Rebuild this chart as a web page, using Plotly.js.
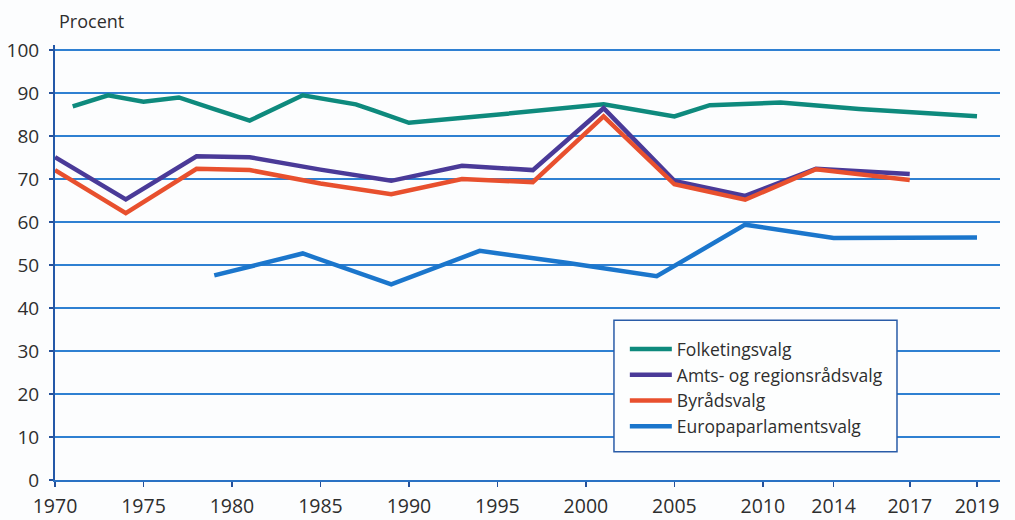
<!DOCTYPE html>
<html>
<head>
<meta charset="utf-8">
<script src="https://cdn.plot.ly/plotly-3.0.1.min.js"></script>
<style>
html,body{margin:0;padding:0;background:#fcfdfe;}
#chart{width:1015px;height:520px;}
</style>
</head>
<body>
<div id="chart"></div>
<script>
// ---- data ----
const tickYears = [1970, 1975, 1980, 1985, 1990, 1995, 2000, 2005, 2010, 2014, 2017, 2019];

const folketingYears = [1971, 1973, 1975, 1977, 1979, 1981, 1984, 1987, 1988, 1990, 1994, 1998, 2001, 2005, 2007, 2011, 2015, 2019];
const folketingVals  = [86.9, 89.5, 88.0, 89.0, 86.3, 83.6, 89.5, 87.4, 86.0, 83.1, 84.6, 86.3, 87.4, 84.6, 87.2, 87.8, 86.3, 84.6];

const amtYears = [1970, 1974, 1978, 1981, 1985, 1989, 1993, 1997, 2001, 2005, 2009, 2013, 2017];
const amtVals  = [75.1, 65.3, 75.3, 75.1, 72.2, 69.6, 73.1, 72.1, 86.5, 69.6, 66.1, 72.4, 71.2];

const byraadYears = [1970, 1974, 1978, 1981, 1985, 1989, 1993, 1997, 2001, 2005, 2009, 2013, 2017];
const byraadVals  = [72.1, 62.1, 72.4, 72.1, 69.0, 66.5, 70.0, 69.3, 84.6, 68.8, 65.2, 72.3, 69.8];

const europaYears = [1979, 1984, 1989, 1994, 1999, 2004, 2009, 2014, 2019];
const europaVals  = [47.6, 52.7, 45.5, 53.3, 50.5, 47.4, 59.4, 56.3, 56.4];

const seriesNames = ['Folketingsvalg', 'Amts- og regionsrådsvalg', 'Byrådsvalg', 'Europaparlamentsvalg'];
const seriesColors = ['#0e8a7d', '#4a3a98', '#e8502e', '#1b76cc'];

// ---- the reference's x axis is stretched after 2014 (piecewise-linear scale) ----
const scaleYears = [1970, 2014, 2017, 2019];
const scaleUnits = [1970, 2014, 2018.3, 2022.1];
function toAxis(year) {
  for (let i = 0; i < scaleYears.length - 1; i++) {
    if (year <= scaleYears[i + 1] || i === scaleYears.length - 2) {
      const t = (year - scaleYears[i]) / (scaleYears[i + 1] - scaleYears[i]);
      return scaleUnits[i] + t * (scaleUnits[i + 1] - scaleUnits[i]);
    }
  }
}

const seriesYears = [folketingYears, amtYears, byraadYears, europaYears];
const seriesVals = [folketingVals, amtVals, byraadVals, europaVals];

const traces = seriesNames.map((name, i) => ({
  type: 'scatter',
  mode: 'lines',
  name: name,
  x: seriesYears[i].map(toAxis),
  y: seriesVals[i],
  text: seriesYears[i].map(String),
  hovertemplate: '%{text}: %{y}<extra>' + name + '</extra>',
  line: {color: seriesColors[i], width: 4.5, shape: 'linear'}
}));

const font = {family: '"Open Sans", "Noto Sans", sans-serif', color: '#2e2e2e'};

const layout = {
  width: 1015,
  height: 520,
  paper_bgcolor: '#fcfdfe',
  plot_bgcolor: '#fcfdfe',
  margin: {l: 55, r: 15, t: 45, b: 40},
  font: font,
  showlegend: true,
  legend: {
    x: 0.603, y: 0.342, xanchor: 'left', yanchor: 'top',
    bgcolor: 'rgba(0,0,0,0)', borderwidth: 0,
    font: {family: font.family, size: 17.5, color: '#2e2e2e'},
    itemwidth: 42
  },
  xaxis: {
    type: 'linear',
    range: [1970, 2023.4],
    tickmode: 'array',
    tickvals: tickYears.map(toAxis),
    ticktext: tickYears.map(String),
    showgrid: false,
    zeroline: false,
    showline: true,
    linecolor: '#2a72c4',
    linewidth: 2,
    ticks: 'outside',
    ticklen: 5,
    tickwidth: 1.5,
    tickcolor: '#24509a',
    ticklabelstandoff: 3,
    tickfont: {family: font.family, size: 19.5, color: '#2e2e2e'},
    fixedrange: true
  },
  yaxis: {
    range: [0, 101.2],
    tickmode: 'array',
    tickvals: [0, 10, 20, 30, 40, 50, 60, 70, 80, 90, 100],
    showgrid: true,
    gridcolor: '#2f80d2',
    gridwidth: 1.5,
    zeroline: false,
    showline: true,
    linecolor: '#2458a8',
    linewidth: 2,
    ticks: 'outside',
    ticklen: 4,
    tickwidth: 1.5,
    tickcolor: '#24509a',
    ticklabelstandoff: 6,
    tickfont: {family: font.family, size: 19, color: '#2e2e2e'},
    fixedrange: true
  },
  shapes: [{
    type: 'rect', xref: 'paper', yref: 'paper',
    x0: 0.5915, x1: 0.891, y0: 0.065, y1: 0.3674,
    fillcolor: '#fdfefe',
    line: {color: '#2a5ca8', width: 1.5},
    layer: 'above'
  }],
  annotations: [{
    text: 'Procent',
    xref: 'paper', yref: 'paper',
    x: 0, y: 1, xanchor: 'left', yanchor: 'bottom',
    yshift: 10, xshift: 2,
    showarrow: false,
    font: {family: font.family, size: 18, color: '#2e2e2e'}
  }]
};

Plotly.newPlot('chart', traces, layout, {displayModeBar: false, staticPlot: true});
</script>
</body>
</html>
